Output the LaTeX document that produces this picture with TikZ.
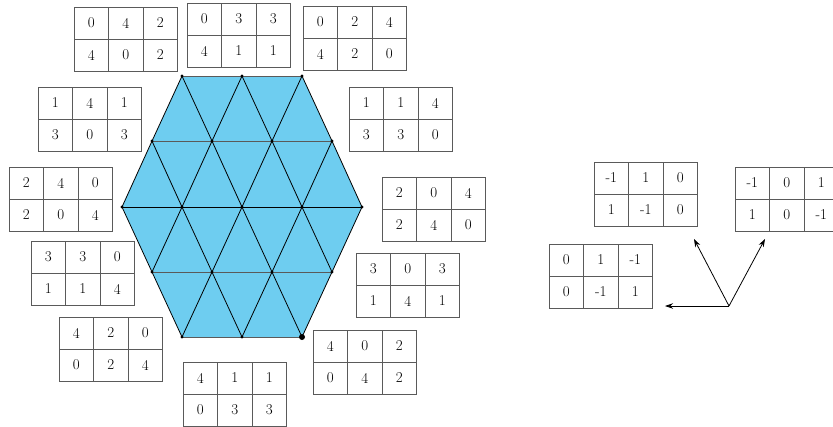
\documentclass[tikz,border=0pt]{standalone}
\usetikzlibrary{arrows.meta}
\definecolor{hexblue}{RGB}{110,205,240}
\definecolor{gridgray}{RGB}{90,90,90}
\tikzset{
  cell/.style={draw=gridgray, line width=1pt, minimum width=34.5pt, minimum height=32pt,
    inner sep=0pt, outer sep=0pt, font=\fontsize{15}{17}\selectfont, anchor=north west},
  latedge/.style={line width=0.8pt, black},
  hedge/.style={line width=0.9pt, gridgray},
  vec/.style={line width=0.8pt, -{Stealth[length=8pt,width=5.5pt]}}
}
\newcommand{\tabl}[8]{%
  \node[cell] (#1a) at #2 {#3};
  \node[cell] (#1b) at (#1a.north east) {#4};
  \node[cell] (#1c) at (#1b.north east) {#5};
  \node[cell] (#1d) at (#1a.south west) {#6};
  \node[cell] (#1e) at (#1d.north east) {#7};
  \node[cell] (#1f) at (#1e.north east) {#8};
}
\begin{document}
\begin{tikzpicture}[x=1pt,y=-1pt]
\useasboundingbox (0,0) rectangle (833,426);
% lattice coordinates
\foreach \i in {0,1,2} {
  \coordinate (p0\i) at ({242+(\i-1)*60},76);
  \coordinate (p4\i) at ({242+(\i-1)*60},337);
}
\foreach \i in {0,1,2,3} {
  \coordinate (p1\i) at ({242+(\i-1.5)*60},141);
  \coordinate (p3\i) at ({242+(\i-1.5)*60},272);
}
\foreach \i in {0,1,2,3,4} {
  \coordinate (p2\i) at ({242+(\i-2)*60},207);
}
% fill
\fill[hexblue] (p00) -- (p02) -- (p24) -- (p42) -- (p40) -- (p20) -- cycle;
% horizontals
\draw[hedge] (p00) -- (p02);
\draw[hedge] (p10) -- (p13);
\draw[latedge] (p20) -- (p24);
\draw[hedge] (p30) -- (p33);
\draw[hedge] (p40) -- (p42);
% diagonals
\foreach \i [evaluate=\i as \j using int(\i+1)] in {0,1,2} {
  \draw[latedge] (p0\i) -- (p1\i);
  \draw[latedge] (p0\i) -- (p1\j);
  \draw[latedge] (p4\i) -- (p3\i);
  \draw[latedge] (p4\i) -- (p3\j);
}
\foreach \i [evaluate=\i as \j using int(\i+1)] in {0,1,2,3} {
  \draw[latedge] (p1\i) -- (p2\i);
  \draw[latedge] (p1\i) -- (p2\j);
  \draw[latedge] (p3\i) -- (p2\i);
  \draw[latedge] (p3\i) -- (p2\j);
}
% dots
\foreach \p in {p00,p01,p02,p10,p11,p12,p13,p20,p21,p22,p23,p24,p30,p31,p32,p33,p40,p41} {
  \fill[black] (\p) circle (1.6);
}
\fill[black] (p42) circle (3);
% tables
\tabl{ta}{(74,7)}{0}{4}{2}{4}{0}{2}
\tabl{tb}{(187,3)}{0}{3}{3}{4}{1}{1}
\tabl{tc}{(303,6)}{0}{2}{4}{4}{2}{0}
\tabl{td}{(38,87)}{1}{4}{1}{3}{0}{3}
\tabl{te}{(349,87)}{1}{1}{4}{3}{3}{0}
\tabl{tf}{(9,167)}{2}{4}{0}{2}{0}{4}
\tabl{tg}{(382,177)}{2}{0}{4}{2}{4}{0}
\tabl{th}{(31,241)}{3}{3}{0}{1}{1}{4}
\tabl{ti}{(356,253)}{3}{0}{3}{1}{4}{1}
\tabl{tj}{(59,317)}{4}{2}{0}{0}{2}{4}
\tabl{tk}{(183,362)}{4}{1}{1}{0}{3}{3}
\tabl{tl}{(313,330)}{4}{0}{2}{0}{4}{2}
% right side
\tabl{ra}{(594,162)}{-1}{1}{0}{1}{-1}{0}
\tabl{rb}{(735,167)}{-1}{0}{1}{1}{0}{-1}
\tabl{rc}{(549,244)}{0}{1}{-1}{0}{-1}{1}
% vectors
\coordinate (o) at (729,306);
\coordinate (v1) at (694,239);
\coordinate (v2) at (765,239);
\coordinate (v3) at (665,306);
\draw[vec] (o) -- (v1);
\draw[vec] (o) -- (v2);
\draw[vec] (o) -- (v3);
\end{tikzpicture}
\end{document}
